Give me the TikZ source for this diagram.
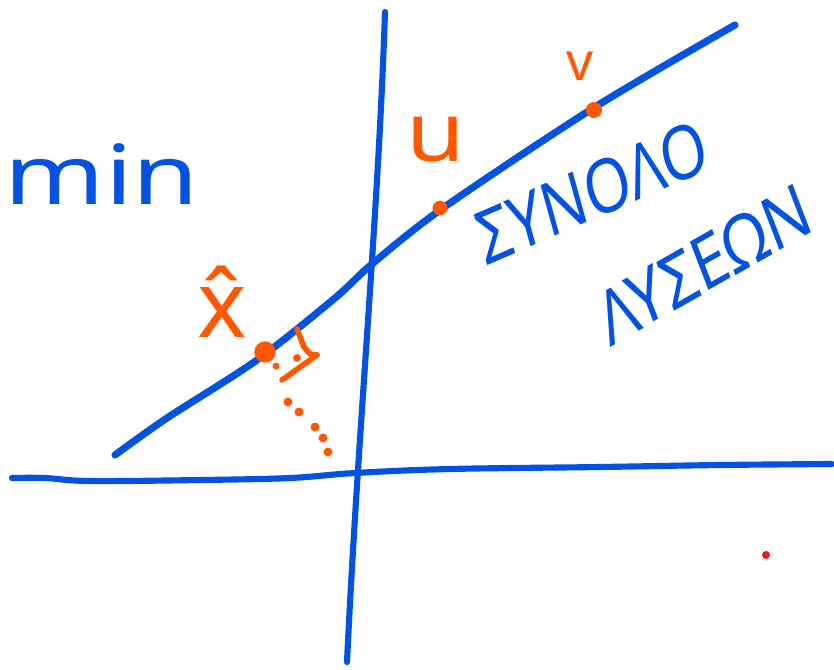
\documentclass[tikz,border=0pt]{standalone}
\usepackage{fontspec}
\setmainfont{Noto Sans}
\definecolor{penblue}{RGB}{4,82,226}
\definecolor{penorange}{RGB}{255,88,0}
\definecolor{dotred}{RGB}{226,30,30}
\begin{document}
\begin{tikzpicture}[x=0.75pt,y=-0.75pt,
  axisline/.style={penblue,line width=4.6pt,line cap=round,line join=round},
  graphline/.style={penblue,line width=5.4pt,line cap=round,line join=round},
  blueink/.style={penblue,inner sep=0pt,font=\fontsize{56}{56}\selectfont},
  orangeink/.style={penorange,inner sep=0pt},
  orangestroke/.style={penorange,line width=4.2pt,line cap=round,line join=round},
  penpoint/.style={fill=penorange,circle,inner sep=0pt}]
\useasboundingbox (0,0) rectangle (834,669);
% axes
\draw[axisline] plot[smooth,tension=0.6] coordinates {(12,478) (45,478) (90,481) (200,480) (290,478) (355,473) (450,469) (600,467) (720,465) (832,464)};
\draw[axisline] (385,12) .. controls (378,220) and (358,430) .. (347,662);
% graph
\draw[graphline] plot[smooth,tension=0.5] coordinates {(115,455) (167,418) (257,360) (335,298) (372,264) (443,208) (595,107) (735,25)};
% points
\node[penpoint,minimum size=16pt] (xhatpt) at (265,352) {};
\node[penpoint,minimum size=11pt] (upt) at (440,208) {};
\node[penpoint,minimum size=12pt] (vpt) at (594,110) {};
% right angle mark
\draw[orangestroke] (297,329) -- (304,347) -- (310,354) -- (317,355);
\draw[orangestroke] (282,380) -- (317,355);
\fill[penorange] (297,358) circle (4);
\fill[penorange] (276,366) circle (3.5);
% dotted drop
\foreach \p in {(288,402),(299,412),(315,427),(323,438),(328,452)}
  \fill[penorange] \p circle (4.5);
% labels
\node[orangeink,font=\fontsize{62}{62}\selectfont,xscale=1.15] (ulab) at (436,140) {u};
\node[orangeink,font=\fontsize{40}{40}\selectfont] (vlab) at (580,66) {v};
\node[orangeink,font=\fontsize{70}{70}\selectfont] (xlab) at (222,302) {\^{x}};
\node[blueink,font=\fontsize{62}{62}\selectfont,xscale=1.3] (minlab) at (102,174) {min};
\node[blueink,xscale=0.8,rotate=19] (set1) at (592,192) {ΣΥΝΟΛΟ};
\node[blueink,xscale=0.82,rotate=25] (set2) at (704,264) {ΛΥΣΕΩΝ};
% stray dot
\fill[dotred] (766,555) circle (4);
\end{tikzpicture}
\end{document}
